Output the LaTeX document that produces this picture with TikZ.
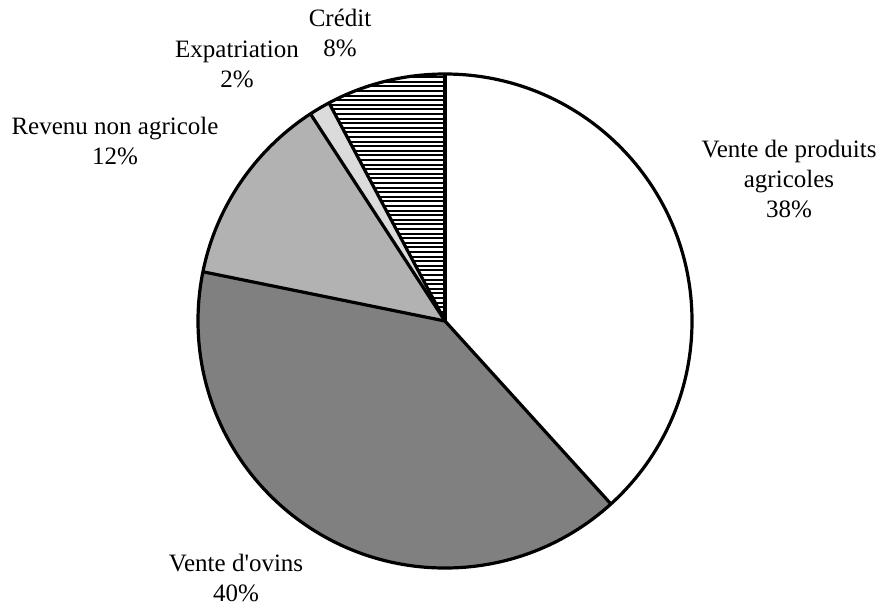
\documentclass[tikz,border=0pt]{standalone}
\usepackage{fontspec}
\setmainfont{Liberation Serif}

\begin{document}
\begin{tikzpicture}[x=1pt,y=-1pt]

	\tikzset{slice/.style={line width=3.2pt,line join=round},
		hatch/.style={line width=2.1pt},
		lbl/.style={align=center,inner sep=0pt,font=\fontsize{25}{30}\selectfont}}
	\useasboundingbox (0,0) rectangle (885,611);
	\coordinate (c) at (445,321);

	\begin{scope}[shift={(c)}]
		\fill[white] (0,0) -- (-47.8:247pt) arc[start angle=-47.8,end angle=90,radius=247pt] -- cycle;
		\fill[black!50] (0,0) -- (168.5:247pt) arc[start angle=168.5,end angle=312.2,radius=247pt] -- cycle;
		\fill[black!30] (0,0) -- (123:247pt) arc[start angle=123,end angle=168.5,radius=247pt] -- cycle;
		\fill[black!14] (0,0) -- (118:247pt) arc[start angle=118,end angle=123,radius=247pt] -- cycle;
		\begin{scope}
			\clip (0,0) -- (90:247pt) arc[start angle=90,end angle=118,radius=247pt] -- cycle;
			\foreach \h in {0,4.6,...,250}
				\draw[hatch] (-130,-\h) -- (5,-\h);
		\end{scope}

		\draw[slice] (0,0) circle[radius=247pt];
		\foreach \a in {90,118,123,168.5,312.2}
			\draw[slice] (0,0) -- (\a:247pt);
	\end{scope}

	\node[lbl] (credit) at (340,33) {Crédit\\8\%};
	\node[lbl] (expat) at (237,64) {Expatriation\\2\%};
	\node[lbl] (revenu) at (115,141) {Revenu non agricole\\12\%};
	\node[lbl] (produits) at (789,179) {Vente de produits\\agricoles\\38\%};
	\node[lbl] (ovins) at (236,578) {Vente d\textquotesingle ovins\\40\%};

\end{tikzpicture}
\end{document}
